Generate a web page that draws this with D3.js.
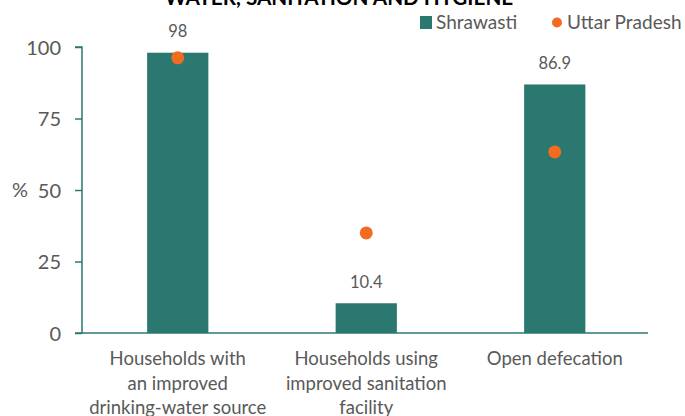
<!DOCTYPE html>
<html>
<head>
<meta charset="utf-8">
<script src="https://cdn.jsdelivr.net/npm/d3@7"></script>
<style>
  html, body { margin: 0; padding: 0; background: #fff; }
  svg { display: block; font-family: Lato, "Open Sans", sans-serif; }
</style>
</head>
<body>
<svg id="chart" width="685" height="416"></svg>
<script>
const categories = [
  ["Households with", "an improved", "drinking-water source"],
  ["Households using", "improved sanitation", "facility"],
  ["Open defecation"]
];
const categoryKeys = ["water", "sanitation", "defecation"];
const shrawasti = [98, 10.4, 86.9];
const uttarPradesh = [96.2, 35, 63.3];
const yTicks = [0, 25, 50, 75, 100];
const title = "WATER, SANITATION AND HYGIENE";
const seriesNames = ["Shrawasti", "Uttar Pradesh"];

const barColor = "#2b7870";
const dotColor = "#f26b21";
const textColor = "#595959";

const svg = d3.select("#chart");
const plotLeft = 82, plotRight = 648, plotTop = 47, plotBottom = 333;

const x = d3.scaleBand().domain(categoryKeys).range([83.5, 649]).paddingInner(0.675).paddingOuter(0.3375);
const y = d3.scaleLinear().domain([0, 100]).range([plotBottom, plotTop]);

// title (partially cut off at top, as in the reference)
svg.append("text").attr("x", 339).attr("y", 5).attr("text-anchor", "middle")
  .attr("font-weight", "bold").attr("font-size", 20.7).attr("fill", "#000").text(title);

// bars
svg.selectAll("rect.bar").data(shrawasti).join("rect").attr("class", "bar")
  .attr("x", (d, i) => x(categoryKeys[i])).attr("width", x.bandwidth())
  .attr("y", d => y(d)).attr("height", d => y(0) - y(d)).attr("fill", barColor);

// bar labels
svg.selectAll("text.val").data(shrawasti).join("text").attr("class", "val")
  .attr("x", (d, i) => x(categoryKeys[i]) + x.bandwidth() / 2)
  .attr("y", d => y(d) - 15.5).attr("text-anchor", "middle")
  .attr("font-size", 16.5).attr("fill", textColor).text(d => d);

// y axis
const yAxis = svg.append("g").attr("transform", `translate(${plotLeft},0)`)
  .call(d3.axisLeft(y).tickValues(yTicks).tickSize(7).tickPadding(14));
yAxis.selectAll("path, line").attr("stroke", barColor).attr("stroke-width", 1.5);
yAxis.select(".domain").attr("d", `M-7,${plotTop}H0V${plotBottom}`);
yAxis.selectAll("text").attr("font-size", 20).attr("fill", textColor).attr("font-family", "Lato").attr("dy", "0.35em");

// % label
svg.append("text").attr("x", 12).attr("y", y(50)).attr("dy", "0.35em")
  .attr("font-size", 20).attr("fill", textColor).text("%");

// x axis line
svg.append("line").attr("x1", plotLeft - 7).attr("x2", plotRight).attr("y1", plotBottom).attr("y2", plotBottom)
  .attr("stroke", barColor).attr("stroke-width", 1.5);

// dots
svg.selectAll("circle.up").data(uttarPradesh).join("circle").attr("class", "up")
  .attr("cx", (d, i) => x(categoryKeys[i]) + x.bandwidth() / 2)
  .attr("cy", d => y(d)).attr("r", 6.5).attr("fill", dotColor);

// category labels
const catG = svg.selectAll("text.cat").data(categories).join("text").attr("class", "cat")
  .attr("x", (d, i) => x(categoryKeys[i]) + x.bandwidth() / 2)
  .attr("y", 365).attr("text-anchor", "middle").attr("font-size", 18.5).attr("fill", textColor);
catG.selectAll("tspan").data((d, i) => d.map(t => ({t, i}))).join("tspan")
  .attr("x", d => x(categoryKeys[d.i]) + x.bandwidth() / 2)
  .attr("dy", (d, j) => j === 0 ? 0 : 24.5).text(d => d.t);

// legend
const lg = svg.append("g");
lg.append("rect").attr("x", 420).attr("y", 16).attr("width", 12).attr("height", 13).attr("fill", barColor);
lg.append("text").attr("x", 436).attr("y", 22.5).attr("dy", "0.35em").attr("font-size", 19).attr("fill", textColor).text(seriesNames[0]);
lg.append("circle").attr("cx", 557).attr("cy", 22.5).attr("r", 5).attr("fill", dotColor);
lg.append("text").attr("x", 567).attr("y", 22.5).attr("dy", "0.35em").attr("font-size", 19).attr("fill", textColor).text(seriesNames[1]);
</script>
</body>
</html>
